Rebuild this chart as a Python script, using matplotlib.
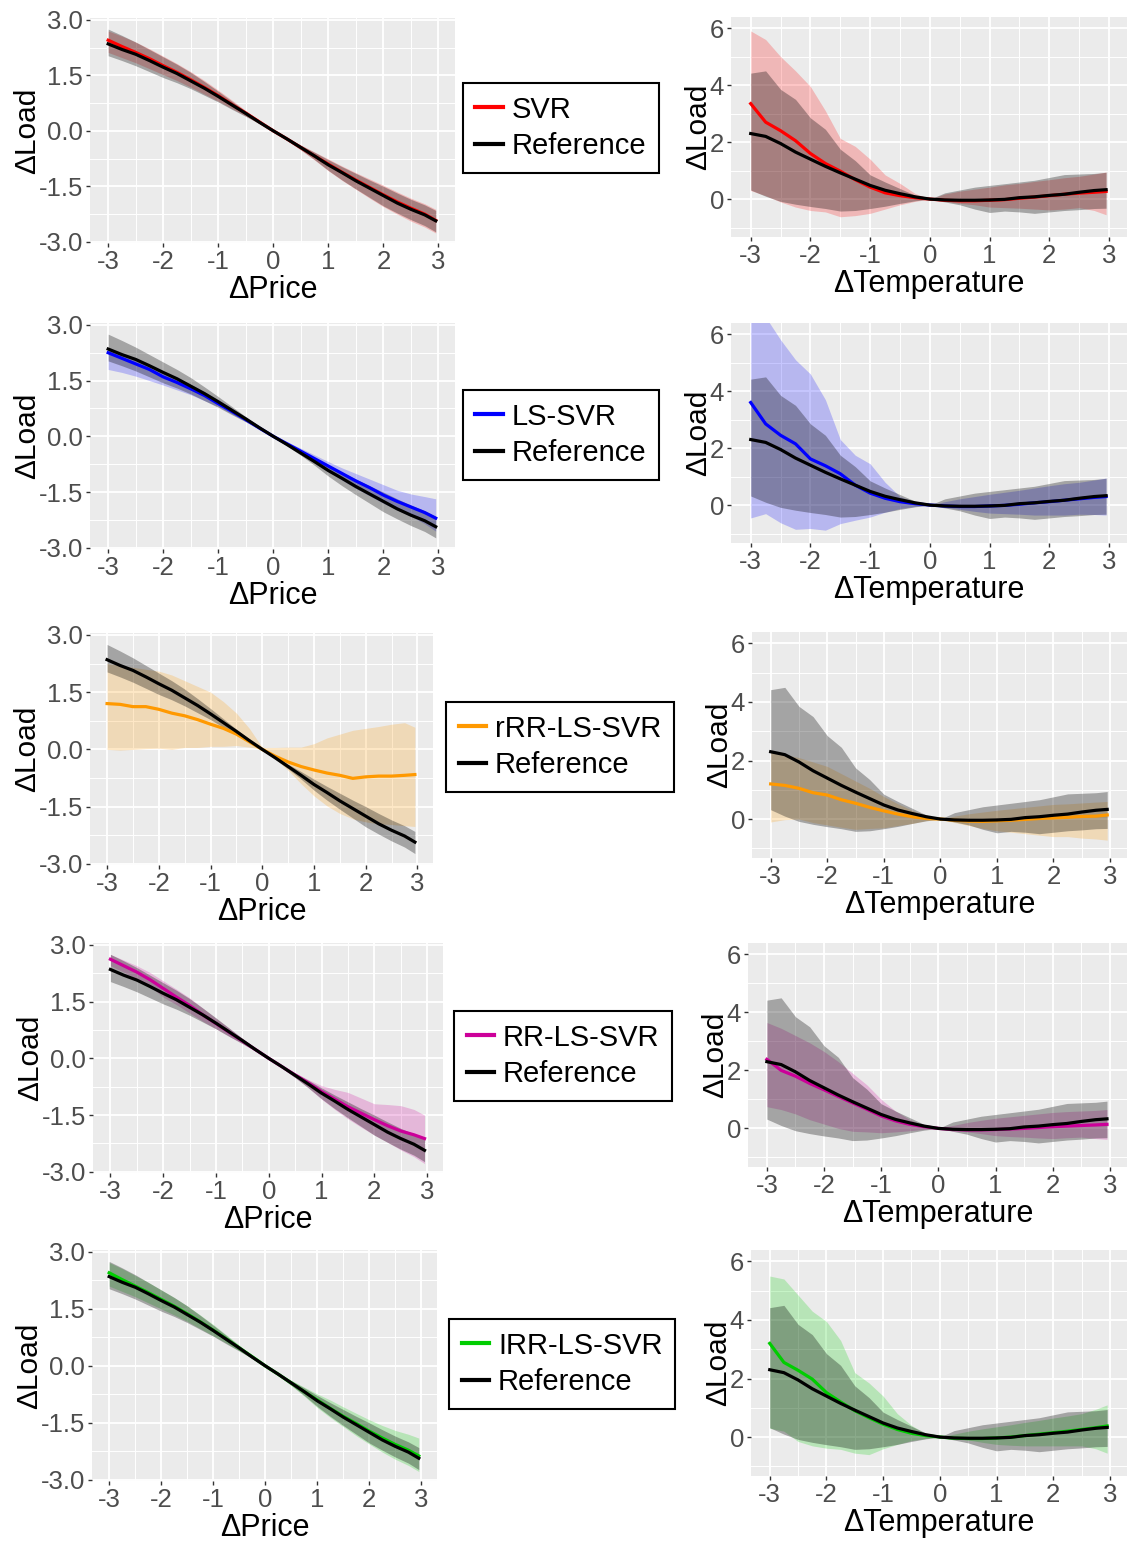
"""Partial dependence of load on price and temperature: five models vs reference."""
import matplotlib.pyplot as plt
from matplotlib.lines import Line2D
from matplotlib.ticker import FixedLocator

plt.rcParams["font.family"] = ["Liberation Sans", "DejaVu Sans"]
plt.rcParams["axes.unicode_minus"] = False

W, H = 1127, 1542

# common grid of the perturbation (delta price / delta temperature)
xs = [-3.0, -2.75, -2.5, -2.25, -2.0, -1.75, -1.5, -1.25, -1.0, -0.75, -0.5, -0.25,
      0.0, 0.25, 0.5, 0.75, 1.0, 1.25, 1.5, 1.75, 2.0, 2.25, 2.5, 2.75, 2.95]

# ---- reference curves (same in every row)
ref_price = [2.35, 2.2, 2.07, 1.9, 1.72, 1.55, 1.35, 1.15, 0.93, 0.7, 0.47, 0.23,
             0.0, -0.22, -0.45, -0.68, -0.92, -1.13, -1.35, -1.55, -1.75, -1.95, -2.12, -2.27, -2.43]
ref_price_hi = [2.75, 2.58, 2.4, 2.2, 2.0, 1.8, 1.58, 1.33, 1.07, 0.8, 0.53, 0.27,
                0.02, -0.19, -0.39, -0.58, -0.78, -0.97, -1.15, -1.33, -1.5, -1.68, -1.85, -2.0, -2.15]
ref_price_lo = [2.03, 1.9, 1.76, 1.6, 1.44, 1.3, 1.14, 0.96, 0.78, 0.58, 0.39, 0.19,
                -0.02, -0.26, -0.51, -0.78, -1.07, -1.33, -1.57, -1.8, -2.03, -2.22, -2.4, -2.56, -2.73]

ref_temp = [2.3, 2.2, 1.95, 1.65, 1.4, 1.15, 0.92, 0.7, 0.48, 0.31, 0.19, 0.08,
            0.0, -0.03, -0.04, -0.04, -0.03, -0.01, 0.05, 0.08, 0.13, 0.17, 0.24, 0.3, 0.33]
ref_temp_hi = [4.42, 4.5, 3.85, 3.5, 2.85, 2.45, 1.75, 1.35, 0.85, 0.6, 0.37, 0.14,
               0.0, 0.22, 0.32, 0.42, 0.48, 0.54, 0.6, 0.66, 0.76, 0.86, 0.88, 0.9, 0.94]
ref_temp_lo = [0.32, 0.1, -0.08, -0.18, -0.26, -0.33, -0.42, -0.4, -0.33, -0.25, -0.15, -0.06,
               0.0, -0.1, -0.2, -0.35, -0.47, -0.42, -0.45, -0.5, -0.45, -0.4, -0.37, -0.33, -0.32]

# ---- models
names = ["SVR", "LS-SVR", "rRR-LS-SVR", "RR-LS-SVR", "IRR-LS-SVR"]
colors = ["#FF0000", "#0000FF", "#FF9900", "#CC0099", "#00CD00"]

price_mid = [
    [2.45, 2.28, 2.12, 1.95, 1.76, 1.58, 1.38, 1.17, 0.95, 0.71, 0.48, 0.24,
     0.0, -0.22, -0.45, -0.68, -0.9, -1.12, -1.33, -1.53, -1.73, -1.92, -2.09, -2.25, -2.42],
    [2.25, 2.1, 1.95, 1.8, 1.6, 1.45, 1.28, 1.1, 0.88, 0.67, 0.45, 0.22,
     0.0, -0.2, -0.4, -0.6, -0.8, -1.0, -1.2, -1.38, -1.58, -1.75, -1.9, -2.05, -2.2],
    [1.2, 1.18, 1.12, 1.12, 1.05, 0.95, 0.88, 0.78, 0.66, 0.55, 0.4, 0.2,
     0.0, -0.18, -0.33, -0.45, -0.54, -0.62, -0.68, -0.76, -0.72, -0.7, -0.7, -0.68, -0.66],
    [2.62, 2.45, 2.28, 2.08, 1.85, 1.62, 1.4, 1.15, 0.92, 0.69, 0.46, 0.23,
     0.0, -0.22, -0.44, -0.65, -0.88, -1.08, -1.28, -1.45, -1.62, -1.78, -1.92, -2.02, -2.12],
    [2.45, 2.27, 2.1, 1.93, 1.75, 1.57, 1.37, 1.16, 0.94, 0.71, 0.47, 0.24,
     0.0, -0.22, -0.45, -0.68, -0.9, -1.12, -1.33, -1.52, -1.72, -1.9, -2.07, -2.22, -2.37],
]
price_hi = [
    [2.7, 2.56, 2.4, 2.22, 2.02, 1.82, 1.6, 1.36, 1.1, 0.83, 0.55, 0.28,
     0.02, -0.19, -0.38, -0.57, -0.76, -0.95, -1.13, -1.3, -1.47, -1.65, -1.82, -1.97, -2.12],
    [2.35, 2.22, 2.08, 1.92, 1.75, 1.57, 1.4, 1.2, 0.98, 0.75, 0.5, 0.25,
     0.02, -0.15, -0.32, -0.5, -0.68, -0.85, -1.0, -1.15, -1.3, -1.45, -1.55, -1.62, -1.68],
    [2.25, 2.2, 2.15, 2.1, 2.05, 1.95, 1.8, 1.65, 1.5, 1.25, 0.95, 0.55,
     0.05, 0.05, 0.06, 0.06, 0.15, 0.3, 0.4, 0.5, 0.55, 0.6, 0.66, 0.7, 0.58],
    [2.75, 2.6, 2.45, 2.27, 2.05, 1.83, 1.6, 1.33, 1.06, 0.8, 0.53, 0.27,
     0.02, -0.19, -0.38, -0.56, -0.72, -0.82, -0.9, -1.05, -1.2, -1.22, -1.25, -1.35, -1.5],
    [2.72, 2.56, 2.38, 2.2, 2.0, 1.8, 1.58, 1.34, 1.09, 0.82, 0.55, 0.28,
     0.02, -0.19, -0.38, -0.56, -0.74, -0.9, -1.08, -1.25, -1.42, -1.57, -1.7, -1.8, -1.9],
]
price_lo = [
    [2.12, 1.98, 1.84, 1.68, 1.52, 1.36, 1.18, 0.99, 0.8, 0.6, 0.4, 0.2,
     -0.02, -0.26, -0.52, -0.79, -1.08, -1.34, -1.58, -1.82, -2.05, -2.25, -2.44, -2.6, -2.76],
    [1.8, 1.72, 1.62, 1.5, 1.38, 1.25, 1.12, 0.96, 0.8, 0.6, 0.4, 0.19,
     -0.02, -0.25, -0.48, -0.72, -0.95, -1.18, -1.4, -1.6, -1.8, -1.98, -2.15, -2.35, -2.55],
    [0.0, -0.02, 0.0, 0.02, 0.03, 0.0, 0.05, 0.05, 0.08, 0.08, 0.1, 0.06,
     0.0, -0.25, -0.55, -0.9, -1.22, -1.48, -1.68, -1.82, -1.9, -1.95, -1.97, -2.0, -2.02],
    [2.45, 2.28, 2.1, 1.9, 1.62, 1.42, 1.2, 0.98, 0.78, 0.58, 0.39, 0.19,
     -0.02, -0.26, -0.51, -0.78, -1.08, -1.35, -1.6, -1.82, -2.03, -2.22, -2.42, -2.6, -2.78],
    [2.1, 1.96, 1.82, 1.66, 1.5, 1.34, 1.17, 0.98, 0.79, 0.6, 0.4, 0.2,
     -0.02, -0.26, -0.52, -0.8, -1.1, -1.36, -1.6, -1.84, -2.06, -2.27, -2.46, -2.62, -2.78],
]

temp_mid = [
    [3.35, 2.7, 2.4, 2.05, 1.6, 1.25, 0.98, 0.68, 0.42, 0.22, 0.12, 0.05,
     0.0, -0.04, -0.06, -0.06, -0.04, -0.02, 0.03, 0.07, 0.12, 0.17, 0.21, 0.24, 0.27],
    [3.6, 2.85, 2.45, 2.15, 1.62, 1.38, 1.1, 0.7, 0.42, 0.24, 0.12, 0.05,
     0.0, -0.03, -0.05, -0.05, -0.03, -0.01, 0.03, 0.08, 0.12, 0.17, 0.22, 0.27, 0.3],
    [1.2, 1.15, 1.05, 0.9, 0.82, 0.66, 0.54, 0.4, 0.28, 0.17, 0.08, 0.02,
     0.0, -0.04, -0.07, -0.08, -0.06, -0.04, -0.01, 0.02, 0.04, 0.06, 0.09, 0.1, 0.14],
    [2.38, 2.0, 1.8, 1.55, 1.33, 1.1, 0.88, 0.66, 0.43, 0.26, 0.14, 0.06,
     0.0, -0.04, -0.05, -0.05, -0.04, -0.02, 0.0, 0.03, 0.06, 0.08, 0.1, 0.12, 0.14],
    [3.2, 2.55, 2.28, 1.98, 1.52, 1.2, 0.9, 0.66, 0.44, 0.26, 0.13, 0.05,
     0.0, -0.04, -0.05, -0.05, -0.03, 0.0, 0.05, 0.1, 0.15, 0.2, 0.26, 0.32, 0.38],
]
temp_hi = [
    [5.9, 5.6, 5.0, 4.5, 3.95, 3.1, 2.13, 1.85, 1.4, 0.85, 0.55, 0.2,
     0.0, 0.18, 0.28, 0.35, 0.42, 0.5, 0.55, 0.62, 0.68, 0.75, 0.8, 0.88, 0.95],
    [6.6, 6.6, 5.8, 5.1, 4.6, 3.7, 2.3, 1.75, 1.45, 0.8, 0.3, 0.1,
     0.0, 0.12, 0.22, 0.3, 0.38, 0.45, 0.52, 0.6, 0.68, 0.75, 0.8, 0.88, 0.95],
    [2.3, 2.2, 2.1, 1.95, 1.8, 1.55, 1.3, 1.05, 0.77, 0.52, 0.3, 0.12,
     0.0, 0.1, 0.18, 0.24, 0.3, 0.35, 0.4, 0.45, 0.5, 0.52, 0.55, 0.58, 0.6],
    [3.65, 3.45, 3.2, 2.95, 2.65, 2.3, 1.9, 1.5, 1.0, 0.6, 0.3, 0.1,
     0.0, 0.1, 0.2, 0.28, 0.35, 0.4, 0.45, 0.5, 0.55, 0.58, 0.6, 0.62, 0.65],
    [5.5, 5.4, 4.85, 4.3, 3.95, 3.3, 2.2, 1.85, 1.4, 0.8, 0.4, 0.12,
     0.0, 0.1, 0.2, 0.28, 0.35, 0.42, 0.5, 0.57, 0.65, 0.72, 0.8, 0.95, 1.1],
]
temp_lo = [
    [0.3, 0.12, -0.1, -0.28, -0.4, -0.45, -0.62, -0.58, -0.5, -0.35, -0.2, -0.08,
     0.0, -0.08, -0.15, -0.2, -0.28, -0.3, -0.32, -0.35, -0.38, -0.35, -0.3, -0.4, -0.55],
    [-0.45, -0.3, -0.62, -0.85, -0.82, -0.88, -0.65, -0.53, -0.42, -0.25, -0.12, -0.05,
     0.0, -0.08, -0.15, -0.22, -0.28, -0.3, -0.32, -0.35, -0.35, -0.35, -0.32, -0.33, -0.35],
    [-0.1, -0.02, 0.0, -0.12, -0.2, -0.28, -0.35, -0.32, -0.3, -0.22, -0.15, -0.05,
     0.0, -0.12, -0.22, -0.32, -0.4, -0.45, -0.5, -0.55, -0.6, -0.6, -0.65, -0.68, -0.72],
    [0.75, 0.65, 0.5, 0.3, 0.15, 0.0, -0.1, -0.12, -0.15, -0.12, -0.08, -0.03,
     0.0, -0.06, -0.12, -0.18, -0.25, -0.28, -0.3, -0.33, -0.35, -0.32, -0.3, -0.35, -0.38],
    [0.3, 0.2, -0.15, -0.3, -0.38, -0.42, -0.55, -0.6, -0.4, -0.25, -0.12, -0.05,
     0.0, -0.05, -0.1, -0.18, -0.25, -0.28, -0.3, -0.3, -0.3, -0.3, -0.3, -0.4, -0.55],
]

price_ticks = [-3, -2, -1, 0, 1, 2, 3]
price_yticks = [-3.0, -1.5, 0.0, 1.5, 3.0]
temp_yticks = [0, 2, 4, 6]

# pixel boxes (left, top, right, bottom) of each panel and legend centres
left_boxes = [(90, 18, 455, 243), (90, 323, 455, 549), (90, 633, 433, 865),
              (93, 943, 443, 1173), (92, 1250, 437, 1481)]
right_boxes = [(731, 17, 1127, 237), (731, 323, 1127, 543), (752, 632, 1127, 858),
               (748, 943, 1127, 1167), (751, 1250, 1127, 1476)]
legend_centres = [(561, 128), (561, 435), (560, 747), (563, 1056), (562, 1364)]


def make_ax(fig, box):
    l, t, r, b = box
    return fig.add_axes([l / W, 1 - b / H, (r - l) / W, (b - t) / H])


def style(ax, yticks, ylabels, yminor, xlabel):
    ax.set_facecolor("#EBEBEB")
    for s in ax.spines.values():
        s.set_visible(False)
    ax.set_xticks(price_ticks)
    ax.set_xticklabels([str(v) for v in price_ticks])
    ax.set_yticks(yticks)
    ax.set_yticklabels(ylabels)
    ax.xaxis.set_minor_locator(FixedLocator([-2.5, -1.5, -0.5, 0.5, 1.5, 2.5]))
    ax.yaxis.set_minor_locator(FixedLocator(yminor))
    ax.grid(which="major", color="white", lw=1.3)
    ax.grid(which="minor", color="white", lw=0.7)
    ax.set_axisbelow(True)
    ax.tick_params(which="major", length=3, width=1, color="#333333",
                   labelcolor="#4D4D4D", labelsize=18.5, pad=2)
    ax.tick_params(which="minor", length=0)
    ax.set_xlabel(xlabel, fontsize=22, labelpad=1)
    ax.set_ylabel("\u0394Load", fontsize=21.5, labelpad=-2)


fig = plt.figure(figsize=(W / 100, H / 100), dpi=100)

for i, name in enumerate(names):
    c = colors[i]
    # price panel
    ax = make_ax(fig, left_boxes[i])
    ax.fill_between(xs, price_lo[i], price_hi[i], color=c, alpha=0.22, lw=0)
    ax.fill_between(xs, ref_price_lo, ref_price_hi, color="black", alpha=0.3, lw=0)
    ax.plot(xs, price_mid[i], color=c, lw=2.3)
    ax.plot(xs, ref_price, color="black", lw=2.3)
    ax.set_xlim(-3.33, 3.3)
    ax.set_ylim(-3.03, 3.05)
    style(ax, price_yticks, ["-3.0", "-1.5", "0.0", "1.5", "3.0"],
          [-2.25, -0.75, 0.75, 2.25], "\u0394Price")

    # temperature panel
    ax = make_ax(fig, right_boxes[i])
    ax.fill_between(xs, temp_lo[i], temp_hi[i], color=c, alpha=0.22, lw=0)
    ax.fill_between(xs, ref_temp_lo, ref_temp_hi, color="black", alpha=0.3, lw=0)
    ax.plot(xs, temp_mid[i], color=c, lw=2.3)
    ax.plot(xs, ref_temp, color="black", lw=2.3)
    ax.set_xlim(-3.33, 3.3)
    ax.set_ylim(-1.33, 6.39)
    style(ax, temp_yticks, [str(v) for v in temp_yticks], [-1, 1, 3, 5],
          "\u0394Temperature")

    # legend box
    cx, cy = legend_centres[i]
    handles = [Line2D([], [], color=c, lw=3), Line2D([], [], color="black", lw=3)]
    leg = fig.legend(handles, [name, "Reference"], loc="center",
                     bbox_to_anchor=(cx / W, 1 - cy / H), fontsize=21,
                     frameon=True, fancybox=False, framealpha=1, edgecolor="black",
                     handlelength=0.95, handletextpad=0.3, borderpad=0.42,
                     labelspacing=0.3, borderaxespad=0)
    leg.get_frame().set_linewidth(1.5)

plt.savefig("out.png", dpi=100)
